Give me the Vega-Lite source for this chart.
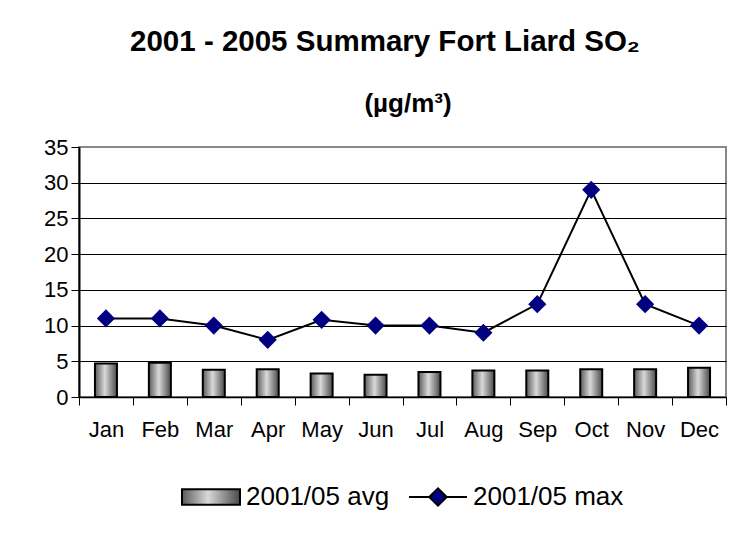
{
  "$schema": "https://vega.github.io/schema/vega-lite/v6.json",
  "width": 647,
  "height": 250,
  "autosize": {"type": "none"},
  "padding": {"left": 79, "top": 147, "right": 17, "bottom": 137},
  "background": "white",
  "title": {
    "text": "2001 - 2005 Summary Fort Liard SO₂",
    "subtitle": "(µg/m³)",
    "anchor": "middle",
    "frame": "bounds",
    "font": "Liberation Sans",
    "fontSize": 29.5,
    "fontWeight": "bold",
    "color": "black",
    "subtitleFont": "Liberation Sans",
    "subtitleFontSize": 26,
    "subtitleFontWeight": "bold",
    "subtitleColor": "black",
    "subtitlePadding": 34,
    "offset": 18,
    "encode": {"subtitle": {"update": {"dx": {"value": 23}}}}
  },
  "data": {
    "values": [
      {"month": "Jan", "avg": 4.7, "max": 11},
      {"month": "Feb", "avg": 4.8, "max": 11},
      {"month": "Mar", "avg": 3.8, "max": 10},
      {"month": "Apr", "avg": 3.9, "max": 8},
      {"month": "May", "avg": 3.3, "max": 10.8},
      {"month": "Jun", "avg": 3.1, "max": 10},
      {"month": "Jul", "avg": 3.5, "max": 10},
      {"month": "Aug", "avg": 3.7, "max": 9},
      {"month": "Sep", "avg": 3.7, "max": 13},
      {"month": "Oct", "avg": 3.9, "max": 29},
      {"month": "Nov", "avg": 3.9, "max": 13},
      {"month": "Dec", "avg": 4.1, "max": 10}
    ]
  },
  "encoding": {
    "x": {
      "field": "month",
      "type": "nominal",
      "sort": null,
      "scale": {"paddingInner": 0, "paddingOuter": 0},
      "axis": {
        "title": null,
        "labelAngle": 0,
        "labelFont": "Liberation Sans",
        "labelFontSize": 22,
        "labelColor": "black",
        "labelPadding": 14,
        "tickBand": "extent",
        "tickSize": 8,
        "tickColor": "black",
        "tickWidth": 1,
        "domainColor": "black",
        "domainWidth": 1.5,
        "grid": false
      }
    }
  },
  "layer": [
    {
      "mark": {
        "type": "bar",
        "size": 22,
        "stroke": "black",
        "strokeWidth": 2,
        "fill": {
          "gradient": "linear",
          "x1": 0, "y1": 0, "x2": 1, "y2": 0,
          "stops": [
            {"offset": 0, "color": "#5a5a5a"},
            {"offset": 0.45, "color": "#d9d9d9"},
            {"offset": 1, "color": "#4a4a4a"}
          ]
        }
      },
      "encoding": {
        "y": {
          "field": "avg",
          "type": "quantitative",
          "scale": {"domain": [0, 35], "nice": false},
          "axis": {"title": null, "values": [0, 5, 10, 15, 20, 25, 30, 35]}
        }
      }
    },
    {
      "mark": {"type": "line", "color": "black", "strokeWidth": 2},
      "encoding": {
        "y": {
          "field": "max",
          "type": "quantitative",
          "axis": {"title": null, "values": [0, 5, 10, 15, 20, 25, 30, 35]}
        },
        "stroke": {
          "datum": "2001/05 max",
          "scale": {"domain": ["2001/05 avg", "2001/05 max"], "range": ["black", "black"]},
          "legend": {
            "title": null,
            "orient": "bottom",
            "direction": "horizontal",
            "offset": 27,
            "labelFont": "Liberation Sans",
            "labelFontSize": 26,
            "labelColor": "black",
            "labelOffset": 5,
            "columnPadding": 15,
            "symbolSize": 3364,
            "symbolStrokeWidth": 2,
            "encode": {
              "symbols": {
                "update": {
                  "shape": {"signal": "datum.value === '2001/05 avg' ? 'M-1,-0.27H1V0.27H-1Z' : 'M-1,0H-0.3M0.3,0H1M-0.3,0L0,-0.3L0.3,0L0,0.3Z'"},
                  "fill": {"signal": "datum.value === '2001/05 avg' ? {gradient: 'linear', x1: 0, y1: 0, x2: 1, y2: 0, stops: [{offset: 0, color: '#5a5a5a'}, {offset: 0.45, color: '#d9d9d9'}, {offset: 1, color: '#4a4a4a'}]} : '#000080'"},
                  "stroke": {"value": "black"},
                  "strokeWidth": {"value": 2},
                  "opacity": {"value": 1}
                }
              }
            }
          }
        }
      }
    },
    {
      "mark": {"type": "point", "shape": "diamond", "filled": true, "color": "#000080", "size": 330, "opacity": 1},
      "encoding": {
        "y": {
          "field": "max",
          "type": "quantitative",
          "axis": {"title": null, "values": [0, 5, 10, 15, 20, 25, 30, 35]}
        }
      }
    }
  ],
  "config": {
    "view": {"stroke": "#888888", "strokeWidth": 2},
    "axisY": {
      "labelFont": "Liberation Sans",
      "labelFontSize": 22,
      "labelColor": "black",
      "labelPadding": 3,
      "tickSize": 8,
      "tickColor": "black",
      "domainColor": "black",
      "domainWidth": 2,
      "grid": true,
      "gridColor": {"condition": {"test": "datum.value == 35", "value": "#888888"}, "value": "black"},
      "gridWidth": 1,
      "gridOpacity": 1
    },
    "legend": {"layout": {"bottom": {"anchor": "middle", "bounds": "full"}}}
  }
}
